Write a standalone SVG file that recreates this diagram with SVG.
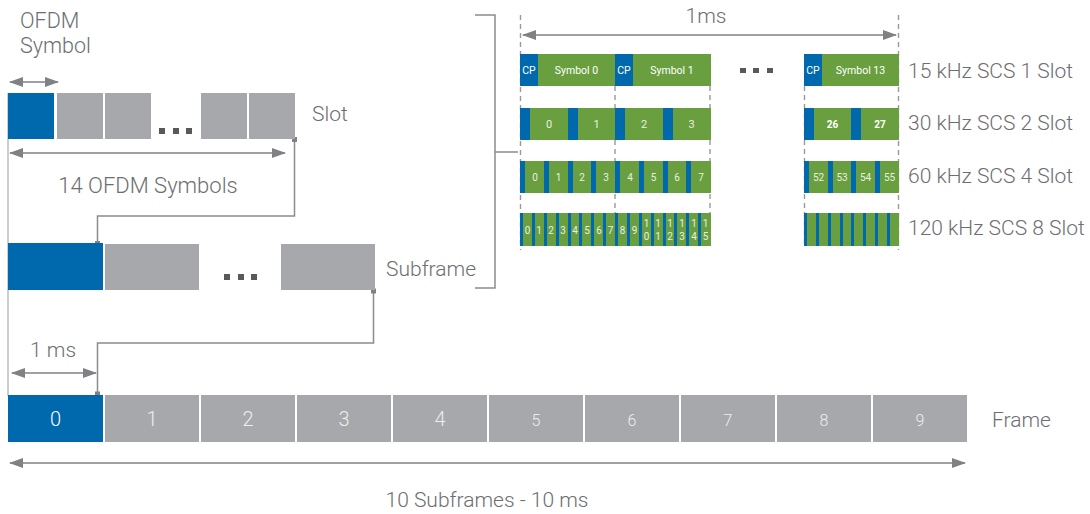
<svg xmlns="http://www.w3.org/2000/svg" width="1090" height="514" viewBox="0 0 1090 514">
<defs>
<marker id="ah" viewBox="0 0 14 10" refX="13" refY="5" markerWidth="14" markerHeight="10" markerUnits="userSpaceOnUse" orient="auto-start-reverse"><path d="M0,0 L14,5 L0,10 Z" fill="#808184"/></marker>
</defs>
<style>
.lbl{font-family:Roboto,"Liberation Sans",sans-serif;font-weight:300;fill:#6d6e71;font-size:21px}
.blue{fill:#0068ac}
.grey{fill:#a7a8ab}
.green{fill:#6a9f3f}
.arrow{stroke:#808184;stroke-width:1.6;fill:none}
.conn{stroke:#8c8c8e;stroke-width:1.5;fill:none}
.dash{stroke:#9a9a9c;stroke-width:1.4;stroke-dasharray:5 4;fill:none}
.sq{fill:#808184}
.dot{fill:#58595b}
.wt{font-family:Roboto,"Liberation Sans",sans-serif;fill:#ffffff;text-anchor:middle}
.ft{font-family:Roboto,"Liberation Sans",sans-serif;font-weight:300;fill:#eeeeee;text-anchor:middle}
</style>
<rect width="1090" height="514" fill="#ffffff"/>

<g id="connectors">
<line x1="8" y1="93" x2="8" y2="396" stroke="#bcbdbf" stroke-width="1.5"/>
<line class="arrow" x1="10" y1="82" x2="58" y2="82" marker-start="url(#ah)" marker-end="url(#ah)"/>
<line class="arrow" x1="10" y1="153" x2="285" y2="153" marker-start="url(#ah)" marker-end="url(#ah)"/>
<polyline class="conn" points="294.5,140 294.5,216 97.5,216 97.5,244"/>
<rect class="sq" x="292" y="137" width="5" height="5"/>
<rect class="sq" x="95" y="241" width="5" height="5"/>
<polyline class="conn" points="373.5,291 373.5,343 97.5,343 97.5,394"/>
<rect class="sq" x="371" y="288.5" width="5" height="5"/>
<rect class="sq" x="95" y="391.5" width="5" height="5"/>
<line class="arrow" x1="12" y1="373" x2="96" y2="373" marker-start="url(#ah)" marker-end="url(#ah)"/>
<line class="arrow" x1="10" y1="463" x2="965" y2="463" marker-start="url(#ah)" marker-end="url(#ah)"/>
<polyline class="conn" points="475,15 495,15 495,288 475,288"/>
<line class="conn" x1="495" y1="152" x2="518" y2="152"/>
<line class="dash" x1="520.5" y1="15" x2="520.5" y2="250"/>
<line class="dash" x1="898.5" y1="15" x2="898.5" y2="250"/>
<line class="dash" x1="615" y1="86" x2="615" y2="246"/>
<line class="dash" x1="710" y1="86" x2="710" y2="246"/>
<line class="dash" x1="804.5" y1="86" x2="804.5" y2="246"/>
<line class="arrow" x1="523" y1="35" x2="896" y2="35" marker-start="url(#ah)" marker-end="url(#ah)"/>
</g>

<g id="ofdm-label">
<text class="lbl" x="20" y="28" style="font-size:21.5px">OFDM</text>
<text class="lbl" x="20" y="53" style="font-size:21.5px">Symbol</text>
</g>

<g id="slot">
<rect class="blue" x="8" y="93" width="46" height="46"/>
<rect class="grey" x="57" y="93" width="46" height="46"/>
<rect class="grey" x="105" y="93" width="46" height="46"/>
<rect class="dot" x="159" y="128" width="6" height="6"/>
<rect class="dot" x="173" y="128" width="6" height="6"/>
<rect class="dot" x="186" y="128" width="6" height="6"/>
<rect class="grey" x="201" y="93" width="46" height="46"/>
<rect class="grey" x="249" y="93" width="46" height="46"/>
<text class="lbl" x="312" y="121">Slot</text>
<text class="lbl" x="148" y="193" text-anchor="middle" style="font-size:22px">14 OFDM Symbols</text>
</g>

<g id="subframe">
<rect class="blue" x="8" y="243" width="95" height="47"/>
<rect class="grey" x="105" y="244" width="94" height="46"/>
<rect class="dot" x="224" y="274" width="6" height="6"/>
<rect class="dot" x="238" y="274" width="6" height="6"/>
<rect class="dot" x="251" y="274" width="6" height="6"/>
<rect class="grey" x="281" y="244" width="94" height="46"/>
<text class="lbl" x="386" y="276">Subframe</text>
</g>

<g id="frame">
<rect class="blue" x="8" y="395" width="95" height="47"/>
<rect class="grey" x="105" y="395" width="94" height="47"/>
<rect class="grey" x="201" y="395" width="94" height="47"/>
<rect class="grey" x="297" y="395" width="94" height="47"/>
<rect class="grey" x="393" y="395" width="94" height="47"/>
<rect class="grey" x="489" y="395" width="94" height="47"/>
<rect class="grey" x="585" y="395" width="94" height="47"/>
<rect class="grey" x="681" y="395" width="94" height="47"/>
<rect class="grey" x="777" y="395" width="94" height="47"/>
<rect class="grey" x="873" y="395" width="94" height="47"/>
<g class="ft" font-size="20">
<text x="55.5" y="426" style="fill:#ffffff">0</text>
<text x="152" y="426">1</text>
<text x="248" y="426">2</text>
<text x="344" y="426">3</text>
<text x="440" y="426">4</text>
</g>
<g class="ft" font-size="16">
<text x="536" y="426">5</text>
<text x="632" y="426">6</text>
<text x="728" y="426">7</text>
<text x="824" y="426">8</text>
<text x="920" y="426">9</text>
</g>
<text class="lbl" x="992" y="427">Frame</text>
<text class="lbl" x="487" y="507" text-anchor="middle">10 Subframes - 10 ms</text>
<text class="lbl" x="30" y="357">1 ms</text>
</g>

<g id="scs-1ms">
<text class="lbl" x="706" y="23" text-anchor="middle">1ms</text>
</g>

<g id="scs15">
<rect class="blue" x="520" y="54" width="18" height="32"/>
<rect class="green" x="538" y="54" width="77" height="32"/>
<rect class="blue" x="615" y="54" width="18" height="32"/>
<rect class="green" x="633" y="54" width="78" height="32"/>
<rect class="blue" x="804" y="54" width="18" height="32"/>
<rect class="green" x="822" y="54" width="77" height="32"/>
<g class="wt" font-size="10.5">
<text x="529" y="74">CP</text>
<text x="576.5" y="74">Symbol 0</text>
<text x="624" y="74">CP</text>
<text x="672" y="74">Symbol 1</text>
<text x="813" y="74">CP</text>
<text x="860.5" y="74">Symbol 13</text>
</g>
<rect class="dot" x="740" y="68" width="6" height="5"/>
<rect class="dot" x="753" y="68" width="6" height="5"/>
<rect class="dot" x="767" y="68" width="6" height="5"/>
<text class="lbl" x="908" y="78">15 kHz SCS 1 Slot</text>
</g>

<g id="scs30">
<rect class="green" x="520" y="108" width="191" height="32"/>
<rect class="blue" x="520" y="108" width="10" height="32"/>
<rect class="blue" x="568" y="108" width="10" height="32"/>
<rect class="blue" x="615" y="108" width="10" height="32"/>
<rect class="blue" x="663" y="108" width="10" height="32"/>
<rect class="green" x="804" y="108" width="95" height="32"/>
<rect class="blue" x="804" y="108" width="10" height="32"/>
<rect class="blue" x="851" y="108" width="10" height="32"/>
<g class="wt" font-size="11" style="fill:#e8f0e0">
<text x="549" y="128">0</text>
<text x="596.5" y="128">1</text>
<text x="644" y="128">2</text>
<text x="691.5" y="128">3</text>
</g>
<g class="wt" font-size="10" font-weight="bold">
<text x="832.5" y="128">26</text>
<text x="880" y="128">27</text>
</g>
<text class="lbl" x="908" y="130">30 kHz SCS 2 Slot</text>
</g>

<g id="scs60">
<rect class="green" x="520" y="161" width="191" height="32"/>
<rect class="blue" x="520" y="161" width="5" height="32"/>
<rect class="blue" x="544" y="161" width="5" height="32"/>
<rect class="blue" x="568" y="161" width="5" height="32"/>
<rect class="blue" x="591" y="161" width="5" height="32"/>
<rect class="blue" x="615" y="161" width="5" height="32"/>
<rect class="blue" x="639" y="161" width="5" height="32"/>
<rect class="blue" x="663" y="161" width="5" height="32"/>
<rect class="blue" x="686" y="161" width="5" height="32"/>
<rect class="green" x="804" y="161" width="95" height="32"/>
<rect class="blue" x="804" y="161" width="5" height="32"/>
<rect class="blue" x="828" y="161" width="5" height="32"/>
<rect class="blue" x="851" y="161" width="5" height="32"/>
<rect class="blue" x="875" y="161" width="5" height="32"/>
<g class="wt" font-size="10" style="fill:#e8f0e0">
<text x="535" y="181">0</text>
<text x="558.5" y="181">1</text>
<text x="582" y="181">2</text>
<text x="606" y="181">3</text>
<text x="630" y="181">4</text>
<text x="653.5" y="181">5</text>
<text x="677" y="181">6</text>
<text x="701" y="181">7</text>
<text x="818.5" y="181">52</text>
<text x="842" y="181">53</text>
<text x="865.5" y="181">54</text>
<text x="889.5" y="181">55</text>
</g>
<text class="lbl" x="908" y="183">60 kHz SCS 4 Slot</text>
</g>

<g id="scs120">
<rect class="green" x="520" y="213" width="191" height="33"/>
<g class="blue">
<rect x="520" y="213" width="3" height="33"/>
<rect x="532" y="213" width="3" height="33"/>
<rect x="544" y="213" width="3" height="33"/>
<rect x="556" y="213" width="3" height="33"/>
<rect x="568" y="213" width="3" height="33"/>
<rect x="579" y="213" width="3" height="33"/>
<rect x="591" y="213" width="3" height="33"/>
<rect x="603" y="213" width="3" height="33"/>
<rect x="615" y="213" width="3" height="33"/>
<rect x="627" y="213" width="3" height="33"/>
<rect x="639" y="213" width="3" height="33"/>
<rect x="651" y="213" width="3" height="33"/>
<rect x="663" y="213" width="3" height="33"/>
<rect x="674" y="213" width="3" height="33"/>
<rect x="686" y="213" width="3" height="33"/>
<rect x="698" y="213" width="3" height="33"/>
</g>
<g class="wt" font-size="10" style="fill:#e8f0e0">
<text x="527.5" y="234">0</text>
<text x="539" y="234">1</text>
<text x="551" y="234">2</text>
<text x="563" y="234">3</text>
<text x="575" y="234">4</text>
<text x="587" y="234">5</text>
<text x="599" y="234">6</text>
<text x="610.5" y="234">7</text>
<text x="622.5" y="234">8</text>
<text x="634.5" y="234">9</text>
<text x="646.5" y="227">1</text><text x="646.5" y="240">0</text>
<text x="658" y="227">1</text><text x="658" y="240">1</text>
<text x="670" y="227">1</text><text x="670" y="240">2</text>
<text x="682" y="227">1</text><text x="682" y="240">3</text>
<text x="694" y="227">1</text><text x="694" y="240">4</text>
<text x="705.5" y="227">1</text><text x="705.5" y="240">5</text>
</g>
<rect class="green" x="804" y="213" width="95" height="33"/>
<g class="blue">
<rect x="804" y="213" width="3" height="33"/>
<rect x="816" y="213" width="3" height="33"/>
<rect x="828" y="213" width="3" height="33"/>
<rect x="840" y="213" width="3" height="33"/>
<rect x="851" y="213" width="3" height="33"/>
<rect x="863" y="213" width="3" height="33"/>
<rect x="875" y="213" width="3" height="33"/>
<rect x="887" y="213" width="3" height="33"/>
</g>
<text class="lbl" x="908" y="235">120 kHz SCS 8 Slot</text>
</g>
</svg>
